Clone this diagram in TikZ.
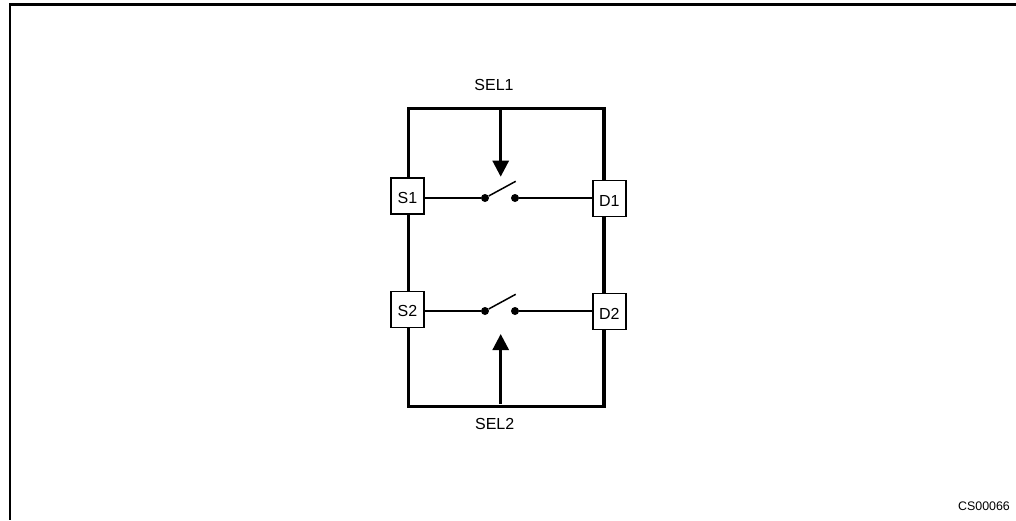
\documentclass[tikz,border=0pt]{standalone}
\usepackage{fontspec}
\setmainfont{Liberation Sans}
\usetikzlibrary{arrows.meta}
\newcommand{\pinlabel}[1]{\raisebox{-2pt}[\height][0pt]{#1}}
\tikzset{
  frameline/.style={line width=2.6pt,line cap=butt},
  bus/.style={line width=3.4pt,line join=miter},
  wire/.style={line width=1.5pt},
  ctrl/.style={line width=2.8pt,-{Triangle[length=16pt,width=16pt]}},
  pin/.style={draw=black,fill=white,line width=1.4pt,minimum width=33pt,minimum height=36pt,inner sep=0pt,font=\fontsize{16}{18}\selectfont},
  contact/.style={circle,fill=black,minimum size=8pt,inner sep=0pt},
  lab/.style={font=\fontsize{16}{18}\selectfont,inner sep=0pt},
  ref/.style={font=\fontsize{12.4}{14}\selectfont,inner sep=0pt}
}
\begin{document}
\begin{tikzpicture}[x=1pt,y=-1pt]
\useasboundingbox (0,0) rectangle (1016,520);
% page frame
\coordinate (ftr) at (1016,4.3);
\coordinate (ftl) at (10,4.3);
\coordinate (fbl) at (10,520);
\draw[frameline] (ftr) -- (ftl) -- (fbl);
% outer loop
\coordinate (tl) at (408.3,108.7);
\coordinate (tr) at (604,108.7);
\coordinate (br) at (604,406.7);
\coordinate (bl) at (408.3,406.7);
\draw[bus] (tl) -- (tr) -- (br) -- (bl) -- cycle;
% control arrows
\coordinate (sel1top) at (500.7,108.7);
\coordinate (sel1tip) at (500.7,176.7);
\coordinate (sel2bot) at (500.7,404);
\coordinate (sel2tip) at (500.7,334);
\draw[ctrl] (sel1top) -- (sel1tip);
\draw[ctrl] (sel2bot) -- (sel2tip);
% terminals
\node[pin] (s1) at (407.4,196) {\pinlabel{S1}};
\node[pin] (d1) at (609.4,198.7) {\pinlabel{D1}};
\node[pin] (s2) at (407.4,309.3) {\pinlabel{S2}};
\node[pin] (d2) at (609.4,311.7) {\pinlabel{D2}};
% switch 1
\node[contact] (a1) at (485,198) {};
\node[contact] (b1) at (515,198) {};
\coordinate (k1) at (515.7,181.3);
\draw[wire] (s1.east |- a1) -- (a1);
\draw[wire] (b1) -- (d1.west |- b1);
\draw[wire] (a1) -- (k1);
% switch 2
\node[contact] (a2) at (485,311) {};
\node[contact] (b2) at (515,311) {};
\coordinate (k2) at (515.7,294.3);
\draw[wire] (s2.east |- a2) -- (a2);
\draw[wire] (b2) -- (d2.west |- b2);
\draw[wire] (a2) -- (k2);
% labels
\node[lab] (sel1) at (494,85) {SEL1};
\node[lab] (sel2) at (494.7,424) {SEL2};
\node[ref] (cs) at (984,506.7) {CS00066};
\end{tikzpicture}
\end{document}
